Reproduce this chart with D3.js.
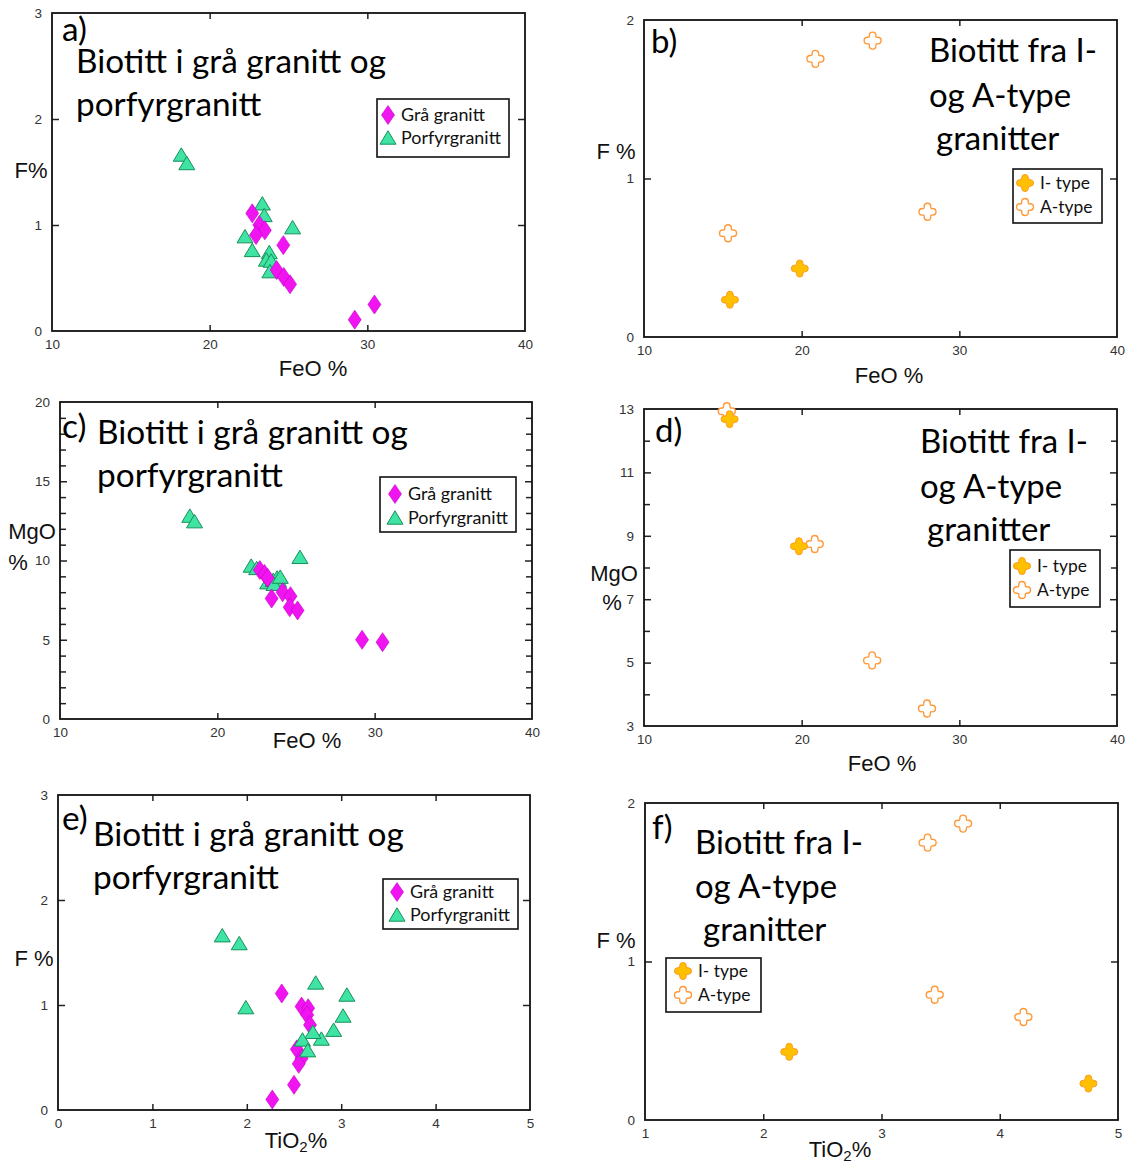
<!DOCTYPE html>
<html><head><meta charset="utf-8">
<script src="https://cdn.jsdelivr.net/npm/d3@7"></script>
<style>
html,body{margin:0;padding:0;background:#fff;}
svg{display:block;}
</style></head>
<body>
<svg id="chart" width="1127" height="1164"></svg>
<script>
// ---------------- DATA ----------------
// Panel a: F% vs FeO% (grå granitt / porfyrgranitt)
const graaA = [[22.7,1.11],[23.15,1.0],[23.5,0.95],[22.94,0.905],[24.67,0.81],[24.25,0.575],[24.7,0.51],[25.1,0.44],[29.2,0.107],[30.45,0.25]];
const porfA = [[18.2,1.66],[18.55,1.58],[23.34,1.2],[23.46,1.09],[22.24,0.89],[22.7,0.76],[25.26,0.975],[23.78,0.74],[23.6,0.67],[23.9,0.66],[23.82,0.56]];
// Panel c: MgO% vs FeO%
const graaC = [[22.7,9.4],[23.0,9.15],[23.2,8.9],[23.45,7.6],[24.15,8.0],[24.65,7.75],[24.6,7.05],[25.1,6.85],[29.2,5.0],[30.5,4.85]];
const porfC = [[18.25,12.8],[18.55,12.45],[22.15,9.65],[22.5,9.5],[23.2,8.6],[23.55,8.75],[23.8,8.9],[23.9,8.7],[23.6,8.5],[25.25,10.2],[24.0,8.95]];
// Panel e: F% vs TiO2%
const graaE = [[2.37,1.11],[2.58,0.985],[2.65,0.97],[2.64,0.905],[2.67,0.81],[2.53,0.578],[2.58,0.49],[2.55,0.44],[2.5,0.24],[2.27,0.10]];
const porfE = [[1.74,1.66],[1.92,1.585],[1.99,0.975],[2.73,1.21],[3.06,1.095],[3.02,0.895],[2.92,0.76],[2.79,0.676],[2.70,0.74],[2.59,0.667],[2.645,0.565]];
// Panel b: F% vs FeO% (I-type / A-type)
const iTypeB = [[15.45,0.235],[19.88,0.432]];
const aTypeB = [[20.87,1.755],[24.5,1.87],[15.33,0.655],[27.98,0.79]];
// Panel d: MgO% vs FeO%
const iTypeD = [[15.43,12.68],[19.83,8.67]];
const aTypeD = [[15.25,12.93],[20.83,8.74],[24.47,5.07],[27.95,3.55]];
// Panel f: F% vs TiO2%
const iTypeF = [[2.22,0.43],[4.75,0.23]];
const aTypeF = [[3.39,1.75],[3.69,1.87],[3.45,0.79],[4.2,0.65]];

// Tick labels
const feoTicks = [10,20,30,40];
const tioTicksE = [0,1,2,3,4,5];
const tioTicksF = [1,2,3,4,5];
const fTicks3 = [0,1,2,3];
const fTicks2 = [0,1,2];
const mgoTicksC = [0,5,10,15,20];
const mgoTicksD = [3,5,7,9,11,13];

// Texts
const titleGG = ["Biotitt i grå granitt og","porfyrgranitt"];
const titleIA = ["Biotitt fra I-","og A-type"," granitter"];
const legendGG = ["Grå granitt","Porfyrgranitt"];
const legendIA = ["I- type","A-type"];

// ---------------- DRAWING ----------------
const svg = d3.select("#chart");
const TITLE_FONT = "Lato, 'Open Sans', sans-serif";
const AXIS_FONT = "'Liberation Sans', Arial, sans-serif";

const MAG = "#f014f0", MAG_S = "#c800c8";
const GRN = "#3fe3a3", GRN_S = "#17915a";
const ORG = "#ffc000", ORG_S = "#ff9a1f", ORG_O = "#ff9a3c";

const diamondPath = "M0,-9.5 L6.5,0 L0,9.5 L-6.5,0 Z";
const trianglePath = "M0,-7.2 L8,6.2 L-8,6.2 Z";
function starPath(r, w){
  const a = r - w, c = w*0.85;
  return `M${-w},${-a} A${w},${w} 0 0 1 ${w},${-a} Q${c},${-c} ${a},${-w} A${w},${w} 0 0 1 ${a},${w} Q${c},${c} ${w},${a} A${w},${w} 0 0 1 ${-w},${a} Q${-c},${c} ${-a},${w} A${w},${w} 0 0 1 ${-a},${-w} Q${-c},${-c} ${-w},${-a} Z`;
}
const crossPath = starPath(8.5, 3.3);

const styles = {
  graa: {d: diamondPath, fill: MAG, stroke: MAG_S, sw: 0.6},
  porf: {d: trianglePath, fill: GRN, stroke: GRN_S, sw: 1},
  itype: {d: crossPath, fill: ORG, stroke: ORG_S, sw: 1},
  atype: {d: crossPath, fill: "#fff", stroke: ORG_O, sw: 1.4}
};

function fitSize(texts, target, family){
  const t = svg.append("text").attr("font-family", family).attr("font-size", 100).text(texts);
  const len = t.node().getComputedTextLength();
  t.remove();
  return 100 * target / len;
}

function panel(cfg){
  const g = svg.append("g");
  const f = cfg.frame;
  const x = d3.scaleLinear().domain(cfg.xDomain).range([f.l, f.r]);
  const y = d3.scaleLinear().domain(cfg.yDomain).range([f.b, f.t]);

  // inner tick marks (all four sides)
  const tickAxis = (axis, tx, ty, vals, len) => {
    const a = g.append("g").attr("transform", `translate(${tx},${ty})`)
      .call(axis.tickValues(vals).tickSizeInner(-len).tickSizeOuter(0).tickFormat(""));
    a.select(".domain").remove();
    a.selectAll("line").attr("stroke", "#222").attr("stroke-width", 1.5);
  };
  tickAxis(d3.axisBottom(x), 0, f.b, cfg.xMarks, 6);
  tickAxis(d3.axisTop(x), 0, f.t, cfg.xMarks, 6);
  tickAxis(d3.axisLeft(y), f.l, 0, cfg.yMarks, 7);
  tickAxis(d3.axisRight(y), f.r, 0, cfg.yMarks, 7);
  if (cfg.yMinor){
    tickAxis(d3.axisLeft(y), f.l, 0, cfg.yMinor, 6);
    tickAxis(d3.axisRight(y), f.r, 0, cfg.yMinor, 6);
  }

  // tick labels
  const lab = (axis, tx, ty, vals, pad) => {
    const a = g.append("g").attr("transform", `translate(${tx},${ty})`)
      .call(axis.tickValues(vals).tickSize(0).tickPadding(pad).tickFormat(d3.format("d")));
    a.select(".domain").remove();
    a.selectAll("text").attr("font-family", AXIS_FONT).attr("font-size", 13.5).attr("fill", "#333");
  };
  lab(d3.axisBottom(x), 0, f.b, cfg.xLabels, 8);
  lab(d3.axisLeft(y), f.l, 0, cfg.yLabels, 10);

  // frame
  g.append("rect").attr("x", f.l).attr("y", f.t).attr("width", f.r - f.l).attr("height", f.b - f.t)
    .attr("fill", "none").attr("stroke", "#111").attr("stroke-width", 1.8);

  // axis titles
  cfg.axisTitles.forEach(at => {
    const t = g.append("text").attr("x", at.x).attr("y", at.y).attr("dy", "0.35em")
      .attr("text-anchor", "middle").attr("font-family", AXIS_FONT).attr("font-size", 22).attr("fill", "#111");
    if (at.sub){
      t.append("tspan").text(at.parts[0]);
      t.append("tspan").attr("font-size", 15).attr("dy", 4).text(at.parts[1]);
      t.append("tspan").attr("dy", -4).text(at.parts[2]);
    } else t.text(at.text);
  });

  // title and panel letter
  const fs = fitSize(cfg.title[0], cfg.titleW, TITLE_FONT);
  cfg.title.forEach((line, i) => {
    g.append("text").attr("x", cfg.titlePos[i][0]).attr("y", cfg.titlePos[i][1]).attr("dy", "0.3em")
      .attr("font-family", TITLE_FONT).attr("font-size", fs).attr("fill", "#000")
      .text(line.trim());
  });
  g.append("text").attr("x", cfg.letterPos[0]).attr("y", cfg.letterPos[1]).attr("dy", "0.3em")
    .attr("font-family", TITLE_FONT).attr("font-size", fs).attr("fill", "#000").text(cfg.letter);

  // legend
  const L = cfg.legend;
  g.append("rect").attr("x", L.x1).attr("y", L.y1).attr("width", L.x2 - L.x1).attr("height", L.y2 - L.y1)
    .attr("fill", "#fff").attr("stroke", "#111").attr("stroke-width", 1.6);
  const lfs = fitSize(L.labels[0], L.w0, TITLE_FONT);
  L.labels.forEach((lbl, i) => {
    const st = styles[L.keys[i]];
    g.append("path").attr("d", st.d).attr("transform", `translate(${L.mx},${L.rows[i]})`)
      .attr("fill", st.fill).attr("stroke", st.stroke).attr("stroke-width", st.sw);
    g.append("text").attr("x", L.tx).attr("y", L.rows[i]).attr("dy", "0.33em")
      .attr("font-family", TITLE_FONT).attr("font-size", lfs).attr("fill", "#111").text(lbl);
  });

  // points
  cfg.series.forEach(s => {
    const st = styles[s.key];
    g.append("g").selectAll("path").data(s.data).join("path")
      .attr("d", st.d)
      .attr("transform", d => `translate(${x(d[0])},${y(d[1])})`)
      .attr("fill", st.fill).attr("stroke", st.stroke).attr("stroke-width", st.sw);
  });
}

const range = (a, b) => d3.range(a, b + 1);

// a)
panel({
  frame: {l: 52, r: 525, t: 13, b: 331},
  xDomain: [10, 40], yDomain: [0, 3],
  xMarks: [20, 30], yMarks: [1, 2],
  xLabels: feoTicks, yLabels: fTicks3,
  axisTitles: [{x: 313, y: 368, text: "FeO %"}, {x: 31, y: 170, text: "F%"}],
  title: titleGG, titleW: 310, titlePos: [[76, 63], [76, 106]],
  letter: "a)", letterPos: [62, 31],
  legend: {x1: 377, y1: 99, x2: 509, y2: 157, rows: [115, 138], mx: 388, tx: 401, w0: 84, labels: legendGG, keys: ["graa", "porf"]},
  series: [{key: "porf", data: porfA}, {key: "graa", data: graaA}]
});

// b)
panel({
  frame: {l: 644, r: 1117, t: 20, b: 337},
  xDomain: [10, 40], yDomain: [0, 2],
  xMarks: [20, 30], yMarks: [1],
  xLabels: feoTicks, yLabels: fTicks2,
  axisTitles: [{x: 889, y: 375, text: "FeO %"}, {x: 616, y: 151, text: "F %"}],
  title: titleIA, titleW: 168, titlePos: [[929, 52], [929, 97], [936, 140]],
  letter: "b)", letterPos: [651, 43],
  legend: {x1: 1013, y1: 169, x2: 1102, y2: 223, rows: [183, 207], mx: 1025, tx: 1040, w0: 50, labels: legendIA, keys: ["itype", "atype"]},
  series: [{key: "atype", data: aTypeB}, {key: "itype", data: iTypeB}]
});

// c)
panel({
  frame: {l: 60, r: 532, t: 402, b: 719},
  xDomain: [10, 40], yDomain: [0, 20],
  xMarks: [20, 30], yMarks: [5, 10, 15], yMinor: range(1, 19).filter(v => v % 5 !== 0),
  xLabels: feoTicks, yLabels: mgoTicksC,
  axisTitles: [{x: 307, y: 740, text: "FeO %"}, {x: 32, y: 531, text: "MgO"}, {x: 18, y: 562, text: "%"}],
  title: titleGG, titleW: 311, titlePos: [[97, 434], [97, 477]],
  letter: "c)", letterPos: [62, 428],
  legend: {x1: 380, y1: 477, x2: 516, y2: 532, rows: [494, 518], mx: 395, tx: 408, w0: 84, labels: legendGG, keys: ["graa", "porf"]},
  series: [{key: "porf", data: porfC}, {key: "graa", data: graaC}]
});

// d)
panel({
  frame: {l: 644, r: 1117, t: 409, b: 726},
  xDomain: [10, 40], yDomain: [3, 13],
  xMarks: [20, 30], yMarks: [5, 7, 9, 11], yMinor: [4, 6, 8, 10, 12],
  xLabels: feoTicks, yLabels: mgoTicksD,
  axisTitles: [{x: 882, y: 763, text: "FeO %"}, {x: 614, y: 573, text: "MgO"}, {x: 612, y: 602, text: "%"}],
  title: titleIA, titleW: 168, titlePos: [[920, 443], [920, 488], [927, 531]],
  letter: "d)", letterPos: [655, 432],
  legend: {x1: 1010, y1: 550, x2: 1100, y2: 607, rows: [566, 590], mx: 1022, tx: 1037, w0: 50, labels: legendIA, keys: ["itype", "atype"]},
  series: [{key: "atype", data: aTypeD}, {key: "itype", data: iTypeD}]
});

// e)
panel({
  frame: {l: 58, r: 530, t: 795, b: 1110},
  xDomain: [0, 5], yDomain: [0, 3],
  xMarks: [1, 2, 3, 4], yMarks: [1, 2],
  xLabels: tioTicksE, yLabels: fTicks3,
  axisTitles: [{x: 296, y: 1140, sub: true, parts: ["TiO", "2", "%"]}, {x: 34, y: 958, text: "F %"}],
  title: titleGG, titleW: 311, titlePos: [[93, 836], [93, 879]],
  letter: "e)", letterPos: [62, 820],
  legend: {x1: 383, y1: 879, x2: 518, y2: 929, rows: [892, 915], mx: 397, tx: 410, w0: 84, labels: legendGG, keys: ["graa", "porf"]},
  series: [{key: "graa", data: graaE}, {key: "porf", data: porfE}]
});

// f)
panel({
  frame: {l: 645, r: 1118, t: 803, b: 1120},
  xDomain: [1, 5], yDomain: [0, 2],
  xMarks: [2, 3, 4], yMarks: [1],
  xLabels: tioTicksF, yLabels: fTicks2,
  axisTitles: [{x: 840, y: 1149, sub: true, parts: ["TiO", "2", "%"]}, {x: 616, y: 940, text: "F %"}],
  title: titleIA, titleW: 168, titlePos: [[695, 844], [695, 888], [703, 931]],
  letter: "f)", letterPos: [652, 829],
  legend: {x1: 666, y1: 958, x2: 761, y2: 1012, rows: [971, 995], mx: 683, tx: 698, w0: 50, labels: legendIA, keys: ["itype", "atype"]},
  series: [{key: "atype", data: aTypeF}, {key: "itype", data: iTypeF}]
});
</script>
</body></html>
